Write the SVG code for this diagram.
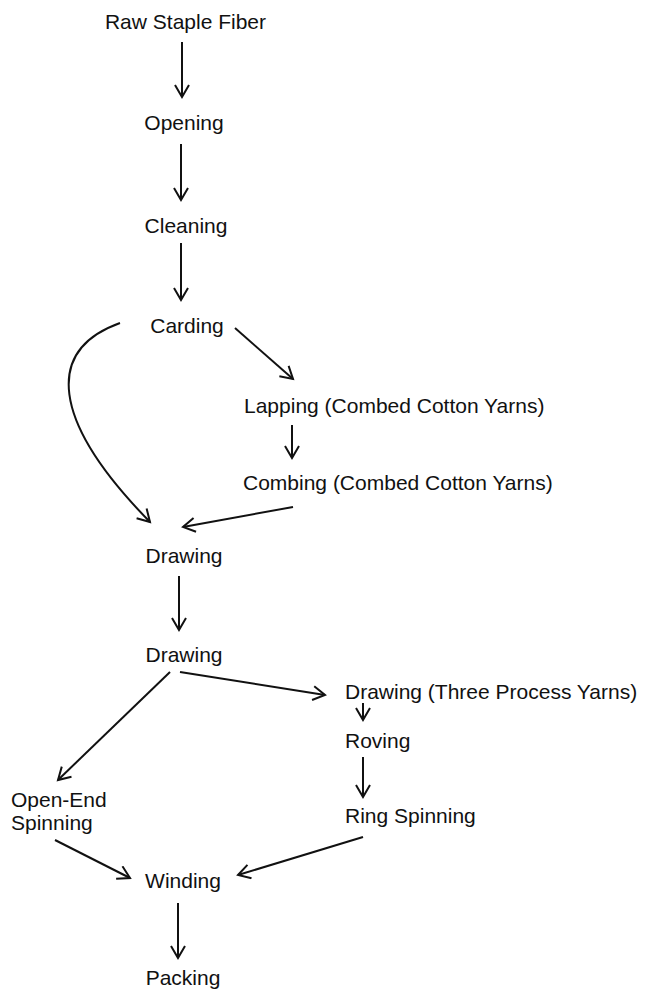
<svg xmlns="http://www.w3.org/2000/svg" width="649" height="991" viewBox="0 0 649 991">
  <defs>
    <!-- open V arrowhead used on every connector -->
    <marker id="arrow" viewBox="-13 -8 16 16" markerWidth="16" markerHeight="16" refX="0" refY="0" orient="auto" markerUnits="userSpaceOnUse">
      <path d="M-12,-7 L0,0 L-12,7" fill="none" stroke="#111" stroke-width="2" stroke-linejoin="miter"/>
    </marker>
    <style>
      text { font-family: "Liberation Sans", Arial, sans-serif; font-size: 21px; fill: #111; }
      .c { text-anchor: middle; }
      .edge { fill: none; stroke: #111; stroke-width: 2; marker-end: url(#arrow); }
    </style>
  </defs>
  <rect width="649" height="991" fill="#fff"/>

  <g id="connectors">
    <path class="edge" d="M182,42 L182,97"/>
    <path class="edge" d="M181,144 L181,200"/>
    <path class="edge" d="M181,243 L181,300"/>
    <path class="edge" d="M120,323 C45,350 50,420 150,522"/>
    <path class="edge" d="M235,328 L293,379"/>
    <path class="edge" d="M292,425 L292,458"/>
    <path class="edge" d="M293,507 L183,527"/>
    <path class="edge" d="M179,576 L179,630"/>
    <path class="edge" d="M180,672 L325,695"/>
    <path class="edge" d="M170,672 L58,780"/>
    <path class="edge" d="M363,703 L363,720"/>
    <path class="edge" d="M363,757 L363,797"/>
    <path class="edge" d="M363,837 L238,875"/>
    <path class="edge" d="M55,840 L130,878"/>
    <path class="edge" d="M178,903 L178,958"/>
  </g>

  <g id="raw-staple-fiber"><text class="c" x="185.5" y="29">Raw Staple Fiber</text></g>
  <g id="opening"><text class="c" x="184" y="130">Opening</text></g>
  <g id="cleaning"><text class="c" x="186" y="233">Cleaning</text></g>
  <g id="carding"><text class="c" x="187" y="333">Carding</text></g>
  <g id="lapping"><text x="244" y="413">Lapping (Combed Cotton Yarns)</text></g>
  <g id="combing"><text x="243" y="490">Combing (Combed Cotton Yarns)</text></g>
  <g id="drawing-1"><text class="c" x="184" y="563">Drawing</text></g>
  <g id="drawing-2"><text class="c" x="184" y="662">Drawing</text></g>
  <g id="drawing-3"><text x="345" y="699">Drawing (Three Process Yarns)</text></g>
  <g id="roving"><text x="345" y="748">Roving</text></g>
  <g id="ring-spinning"><text x="345" y="823">Ring Spinning</text></g>
  <g id="open-end-spinning"><text x="11" y="807">Open-End</text><text x="11" y="830">Spinning</text></g>
  <g id="winding"><text class="c" x="183" y="888">Winding</text></g>
  <g id="packing"><text class="c" x="183" y="985">Packing</text></g>
</svg>
